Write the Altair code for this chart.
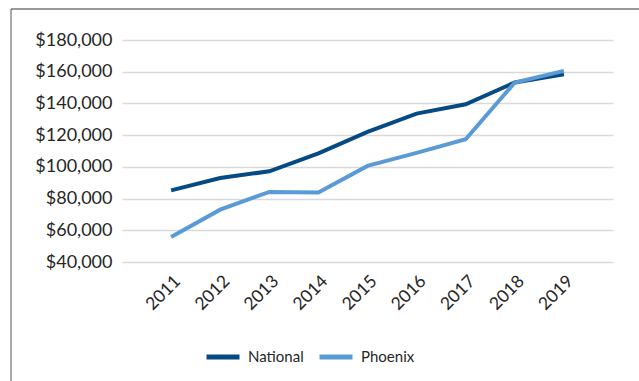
import altair as alt
import pandas as pd

years = ["2011", "2012", "2013", "2014", "2015", "2016", "2017", "2018", "2019"]
national = [85200, 93000, 97200, 108500, 122000, 133600, 139500, 153200, 158400]
phoenix = [55800, 73000, 84200, 83900, 100600, 108800, 117400, 153200, 160500]
series = ["National", "Phoenix"]
colors = ["#064a84", "#5b9bd5"]
y_ticks = [40000, 60000, 80000, 100000, 120000, 140000, 160000, 180000]

rows = []
for name, vals in zip(series, [national, phoenix]):
    for yr, v in zip(years, vals):
        rows.append({"Year": yr, "Series": name, "Value": v})
df = pd.DataFrame(rows)

FONT = "Lato"

lines = alt.Chart(df).mark_line(strokeWidth=4).encode(
    x=alt.X("Year:O", sort=years,
            scale=alt.Scale(type="point", padding=1),
            axis=alt.Axis(title=None, labelAngle=-45, domain=False, ticks=False,
                          grid=False, labelFontSize=17.5, labelFont=FONT,
                          labelColor="#262626", labelPadding=10)),
    y=alt.Y("Value:Q",
            scale=alt.Scale(domain=[40000, 180000], nice=False, zero=False),
            axis=alt.Axis(title=None, values=y_ticks, format="$,.0f", domain=False,
                          ticks=False, gridColor="#d9d9d9", gridWidth=1.3,
                          labelPadding=10, labelFontSize=18, labelFont=FONT,
                          labelColor="#262626")),
    color=alt.Color("Series:N", scale=alt.Scale(domain=series, range=colors),
                    legend=alt.Legend(title=None, orient="none", legendX=82, legendY=298,
                                      direction="horizontal", symbolType="stroke",
                                      symbolSize=1089, symbolStrokeWidth=5,
                                      labelFontSize=15, labelFont=FONT,
                                      labelColor="#262626", labelOffset=6,
                                      columnPadding=5)),
)

one = pd.DataFrame({"a": [0]})
border_top = alt.Chart(one).mark_rule(color="#333333", strokeWidth=1).encode(
    x=alt.value(-111), x2=alt.value(540), y=alt.value(-31))
border_left = alt.Chart(one).mark_rule(color="#555555", strokeWidth=1).encode(
    x=alt.value(-111), y=alt.value(-31), y2=alt.value(400))

chart = alt.layer(border_top, border_left, lines).properties(
    width=491, height=222,
    autosize=alt.AutoSizeParams(type="none"),
    padding={"left": 122, "top": 40, "right": 26, "bottom": 119},
).configure_view(stroke=None)

chart.save("out.html", embed_options={"renderer": "svg", "actions": False})
